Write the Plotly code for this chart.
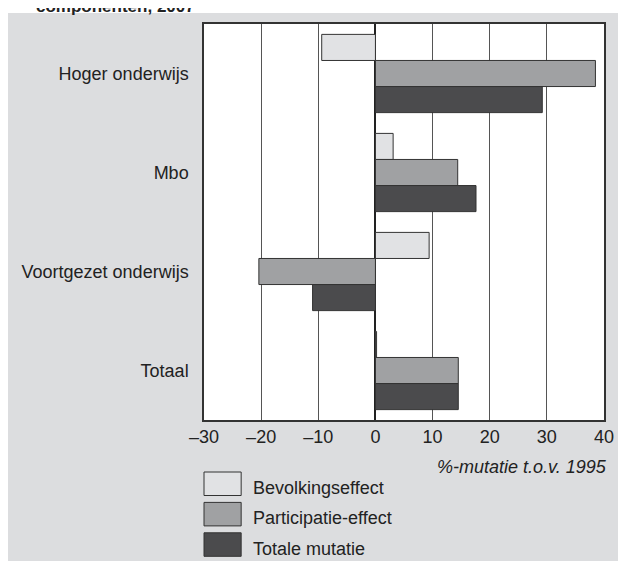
import plotly.graph_objects as go

categories = ['Hoger onderwijs', 'Mbo', 'Voortgezet onderwijs', 'Totaal']
bevolking = [-9.4, 3.1, 9.4, 0.2]
participatie = [38.5, 14.4, -20.4, 14.5]
totaal = [29.2, 17.6, -11.0, 14.5]
series_names = ['Bevolkingseffect', 'Participatie-effect', 'Totale mutatie']
tick_vals = [-30, -20, -10, 0, 10, 20, 30, 40]
tick_text = ['\u201330', '\u201320', '\u201310', '0', '10', '20', '30', '40']

colors = ['#e1e2e4', '#a0a1a3', '#4b4b4d']
font = 'Liberation Sans, Arial, sans-serif'

fig = go.Figure()
for name, vals, col in zip(series_names, [bevolking, participatie, totaal], colors):
    fig.add_trace(go.Bar(
        y=categories, x=vals, name=name, orientation='h',
        marker=dict(color=col, line=dict(color='#333333', width=1)),
        showlegend=False))

# page background: white strip at top, grey panel below
fig.add_shape(type='rect', xref='paper', yref='paper',
              x0=-0.6, x1=1.1, y0=-0.4, y1=1.0278,
              fillcolor='#dcdddf', line_width=0, layer='below')
fig.add_shape(type='rect', xref='paper', yref='paper',
              x0=0, x1=1, y0=0, y1=1,
              fillcolor='white', line_width=0, layer='below')

# custom legend with large swatches (positions relative to plot area)
px_w, px_h = 409.0, 396.0
for i, (name, col) in enumerate(zip(series_names, colors)):
    top = 472 + i * 30.4
    y1 = (420 - top) / px_h
    y0 = (420 - top - 23.5) / px_h
    fig.add_shape(type='rect', xref='paper', yref='paper',
                  x0=0, x1=38 / px_w, y0=y0, y1=y1,
                  fillcolor=col, line=dict(color='#333333', width=1))
    fig.add_annotation(xref='paper', yref='paper', x=48 / px_w,
                       y=(420 - (top + 16)) / px_h,
                       text=name, showarrow=False, xanchor='left', yanchor='middle',
                       font=dict(family=font, size=18, color='#222222'))

fig.add_annotation(xref='paper', yref='paper', x=1.012, y=(420 - 467) / px_h,
                   text='<i>%-mutatie t.o.v. 1995</i>', showarrow=False,
                   xanchor='right', yanchor='middle',
                   font=dict(family=font, size=18, color='#222222'))

# title, cut off at the top edge as in the source
fig.add_annotation(xref='paper', yref='paper', x=(30 - 204) / px_w, y=1.016,
                   text='<b>componenten, 2007</b>', showarrow=False,
                   xanchor='left', yanchor='bottom',
                   font=dict(family=font, size=17, color='#222222'))

# the page body adds an 8px margin, so the figure is 8px smaller
fig.update_layout(
    width=618, height=553,
    margin=dict(l=196, r=13, t=16, b=141),
    paper_bgcolor='white', plot_bgcolor='white',
    barmode='group', bargap=0.21, bargroupgap=0,
    font=dict(family=font, size=18, color='#222222'),
)
fig.update_xaxes(range=[-30, 40], tickvals=tick_vals, ticktext=tick_text,
                 showgrid=True, gridcolor='#555555', gridwidth=1,
                 zeroline=True, zerolinecolor='#222222', zerolinewidth=1.5,
                 showline=True, linecolor='#333333', linewidth=1.5, mirror=True,
                 ticks='', tickfont=dict(size=18))
fig.update_yaxes(autorange='reversed', showgrid=False,
                 showline=True, linecolor='#333333', linewidth=1.5, mirror=True,
                 ticks='', ticklabelstandoff=10, tickfont=dict(size=18))

fig.write_html('out.html')
